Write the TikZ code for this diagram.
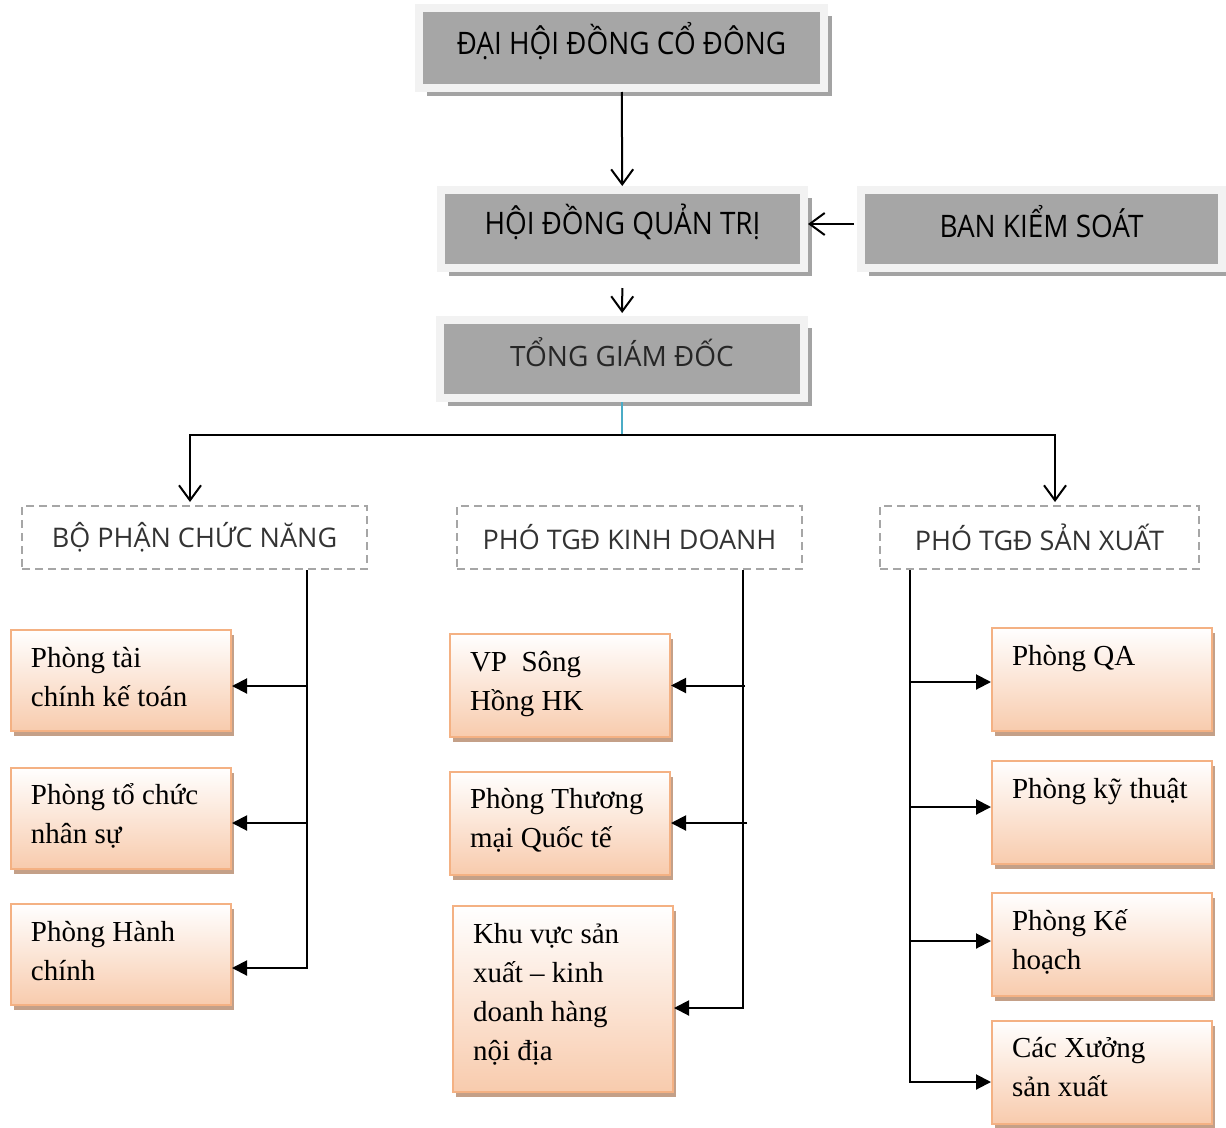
\documentclass[tikz,border=0pt]{standalone}
\usepackage{fontspec}
\setmainfont{Liberation Serif}
\newfontfamily\uisans[FakeStretch=0.9]{Open Sans}
\newfontfamily\uilight{Open Sans}
\usetikzlibrary{arrows.meta,positioning,calc,shadows}
\definecolor{panel}{RGB}{166,166,166}
\definecolor{panelrim}{RGB}{242,242,242}
\definecolor{peach}{RGB}{248,203,173}
\definecolor{peachrim}{RGB}{244,177,131}
\definecolor{peachshade}{RGB}{196,160,136}
\definecolor{tgdblue}{RGB}{75,172,198}
\tikzstyle{council} = [rectangle, draw=panelrim, line width=8pt, fill=panel, drop shadow={shadow xshift=8pt, shadow yshift=-8pt, fill=black!36, opacity=1}, font=\uisans\fontsize{31}{36}\selectfont]
\tikzstyle{deputy} = [rectangle, draw=panel, line width=2pt, dash pattern=on 8pt off 5pt, text=black!80, minimum height=63pt, font=\uilight\fontsize{27}{32}\selectfont]
\tikzstyle{room} = [rectangle, draw=peachrim, line width=2pt, top color=white, bottom color=peach, inner sep=0pt, minimum width=220pt, drop shadow={shadow xshift=3pt, shadow yshift=-5pt, fill=peachshade, opacity=1}, font=\fontsize{29}{39}\selectfont]
\tikzstyle{down} = [draw, line width=2pt, -{Straight Barb[length=15pt,width=22pt]}]
\tikzstyle{feed} = [draw, line width=2pt, -{Triangle[length=15pt,width=15pt]}]
\newcommand{\lift}[1]{\raisebox{7pt}[\height][\depth]{#1}}
\newcommand{\roomtext}[2]{\parbox[c][#1][t]{220pt}{\raggedright\leftskip=20pt\rule{0pt}{37pt}#2}}

\begin{document}
\begin{tikzpicture}[x=1pt, y=-1pt]
	\useasboundingbox (0,0) rectangle (1226,1127);
	% Top of the tree
	\node [council, minimum width=405pt, minimum height=80pt] (dhdcd) at (621.5,48) {\lift{ĐẠI HỘI ĐỒNG CỔ ĐÔNG}};
	\node [council, minimum width=363pt, minimum height=78pt] (hdqt) at (622.5,229) {\lift{HỘI ĐỒNG QUẢN TRỊ}};
	\node [council, minimum width=361pt, minimum height=78pt] (bks) at (1041.5,229) {\lift{BAN KIỂM SOÁT}};
	\node [council, minimum width=364pt, minimum height=78pt, font=\uilight\fontsize{28}{32}\selectfont, text=black!85] (tgd) at (622,359) {\lift{TỔNG GIÁM ĐỐC}};
	
	% Second level
	\node [deputy, minimum width=345pt] (bpcn) at (194.5,537.5) {BỘ PHẬN CHỨC NĂNG};
	\node [deputy, minimum width=345pt] (ptkd) at (629.5,537.5) {PHÓ TGĐ KINH DOANH};
	\node [deputy, minimum width=319pt] (ptsx) at (1039.5,537.5) {PHÓ TGĐ SẢN XUẤT};
	
	% Left column
	\node [room] (tc) at (121,680.5) {\roomtext{101pt}{Phòng tài\\chính kế toán}};
	\node [room, below of=tc, node distance=137.5pt] (ns) {\roomtext{101pt}{Phòng tổ chức\\nhân sự}};
	\node [room, below of=ns, node distance=136.5pt] (hc) {\roomtext{101pt}{Phòng Hành\\chính}};
	
	% Middle column
	\node [room] (vp) at (560,685.5) {\roomtext{103pt}{VP\ \ Sông\\Hồng HK}};
	\node [room, below of=vp, node distance=137.5pt] (tm) {\roomtext{103pt}{Phòng Thương\\mại Quốc tế}};
	\node [room] (kv) at (563,999) {\roomtext{186pt}{Khu vực sản\\xuất – kinh\\doanh hàng\\nội địa}};
	
	% Right column
	\node [room] (qa) at (1102,679.5) {\roomtext{103pt}{Phòng QA}};
	\node [room, below of=qa, node distance=133pt] (kt) {\roomtext{103pt}{Phòng kỹ thuật}};
	\node [room, below of=kt, node distance=132pt] (kh) {\roomtext{103pt}{Phòng Kế\\hoạch}};
	\node [room, below of=kh, node distance=127.5pt] (xs) {\roomtext{103pt}{Các Xưởng\\sản xuất}};
	
	% Paths
	\coordinate (fork) at (622,435);
	\coordinate (lspine) at ([xshift=112.5pt]bpcn.south);
	\coordinate (mspine) at ([xshift=113.5pt]ptkd.south);
	\coordinate (rspine) at ([xshift=-129.5pt]ptsx.south);
	\path [down] (dhdcd) -- (hdqt);
	\path [down, shorten <=16pt, shorten >=3pt] (hdqt) -- (tgd);
	\path [down, shorten <=3pt] ([yshift=5pt]bks.west) -- ([yshift=5pt]hdqt.east);
	\draw [tgdblue, line width=1.5pt] (tgd) -- (fork);
	\path [down, shorten >=3pt] (fork) -| ([xshift=-4.5pt]bpcn.north);
	\path [down, shorten >=3pt] (fork) -| ([xshift=15.5pt]ptsx.north);
	\path [feed] (lspine) |- ([yshift=-13.5pt]hc.east);
	\path [feed] ([yshift=-5.5pt]tc.east -| lspine) -- ([yshift=-5.5pt]tc.east);
	\path [feed] ([yshift=-5pt]ns.east -| lspine) -- ([yshift=-5pt]ns.east);
	\path [feed] (mspine) |- ([yshift=-9pt]kv.east);
	\path [feed] ([xshift=2pt]vp.east -| mspine) -- (vp.east);
	\path [feed] ([xshift=4pt]tm.east -| mspine) -- (tm.east);
	\path [feed] (rspine) |- ([yshift=-10pt]xs.west);
	\path [feed] ([yshift=-2.5pt]qa.west -| rspine) -- ([yshift=-2.5pt]qa.west);
	\path [feed] ([yshift=5.5pt]kt.west -| rspine) -- ([yshift=5.5pt]kt.west);
	\path [feed] ([yshift=3.5pt]kh.west -| rspine) -- ([yshift=3.5pt]kh.west);
\end{tikzpicture}
\end{document}
